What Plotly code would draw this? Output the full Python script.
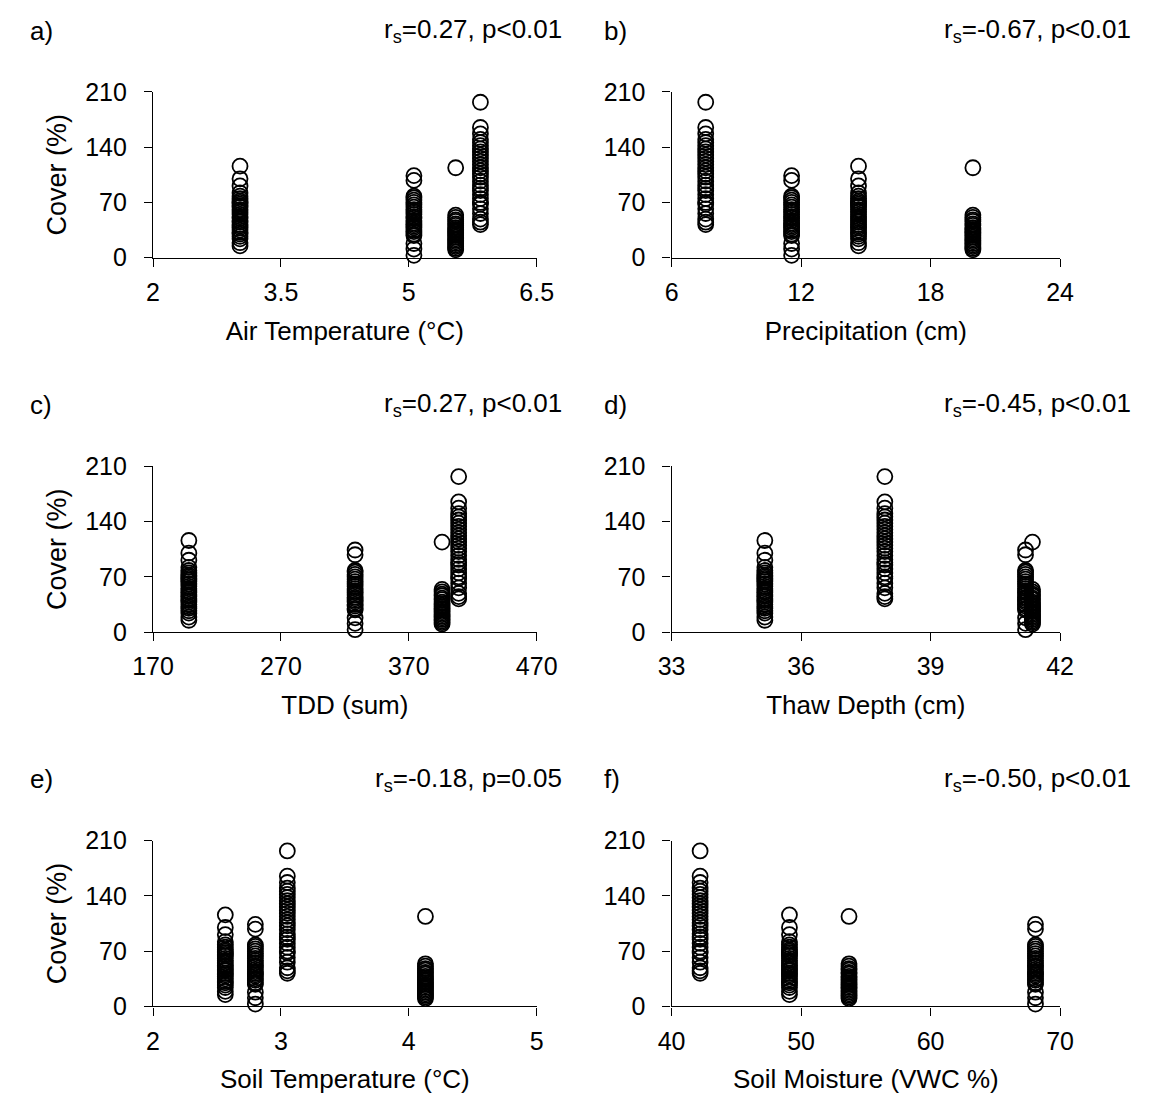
import plotly.graph_objects as go

# ---- data: four sites (A, B, C, D) ----
air_temp = [3.02, 5.06, 5.55, 5.84]
precip = [14.66, 11.56, 19.96, 7.58]
tdd = [198, 328, 396, 409]
thaw_depth = [35.16, 41.20, 41.36, 37.94]
soil_temp = [2.565, 2.80, 4.13, 3.05]
soil_moist = [49.1, 68.1, 53.7, 42.2]

cover_A = [116, 100, 91, 82, 78, 75, 72, 70, 68, 66, 64, 61, 58, 55, 52, 50, 47,
           45, 42, 40, 38, 35, 32, 30, 27, 24, 19, 15]
cover_B = [104, 98, 78, 76, 73, 70, 67, 64, 61, 58, 55, 52, 50, 47, 44, 42, 40,
           38, 35, 33, 30, 28, 18, 11, 3]
cover_C = [114, 54, 51, 48, 46, 43, 41, 38, 36, 34, 32, 30, 28, 26, 24, 22, 20,
           18, 16, 14, 12, 10]
cover_D = [197, 165, 157, 150, 146, 142, 138, 134, 130, 126, 122, 118, 114, 110,
           106, 102, 97, 92, 88, 85, 80, 75, 70, 68, 62, 56, 49, 45, 42]
covers = [cover_A, cover_B, cover_C, cover_D]

panel_letters = ["a)", "b)", "c)", "d)", "e)", "f)"]
stats = ["r<sub>s</sub>=0.27, p&lt;0.01", "r<sub>s</sub>=-0.67, p&lt;0.01",
         "r<sub>s</sub>=0.27, p&lt;0.01", "r<sub>s</sub>=-0.45, p&lt;0.01",
         "r<sub>s</sub>=-0.18, p=0.05", "r<sub>s</sub>=-0.50, p&lt;0.01"]
x_titles = ["Air Temperature (°C)", "Precipitation (cm)", "TDD (sum)",
            "Thaw Depth (cm)", "Soil Temperature (°C)", "Soil Moisture (VWC %)"]
x_vars = [air_temp, precip, tdd, thaw_depth, soil_temp, soil_moist]
x_ranges = [[2, 6.5], [6, 24], [170, 470], [33, 42], [2, 5], [40, 70]]
x_ticks = [[2, 3.5, 5, 6.5], [6, 12, 18, 24], [170, 270, 370, 470],
           [33, 36, 39, 42], [2, 3, 4, 5], [40, 50, 60, 70]]
x_ticktext = [["2", "3.5", "5", "6.5"], ["6", "12", "18", "24"],
              ["170", "270", "370", "470"], ["33", "36", "39", "42"],
              ["2", "3", "4", "5"], ["40", "50", "60", "70"]]
y_ticks = [0, 70, 140, 210]

W, H = 1163, 1114
col_dom = [[137 / W, 535 / W], [675 / W, 1078 / W]]
row_px = [(250, 80), (634, 464), (1018, 848)]  # (y of 0, y of 210) in px
row_dom = [[1 - b / H, 1 - t / H] for b, t in row_px]
label_y = [17, 401, 785]
stat_right = [563, 1154]
letter_left = [7, 603]

FONT = "Liberation Sans, Arial, sans-serif"
TXT = 26

fig = go.Figure()
layout = dict(
    width=W, height=H, margin=dict(l=0, r=0, t=0, b=0),
    paper_bgcolor="white", plot_bgcolor="white", showlegend=False,
    font=dict(family=FONT, size=TXT, color="black"),
)
annotations = []
for i in range(6):
    r, c = divmod(i, 2)
    n = i + 1
    xs, ys = [], []
    for s in range(4):
        xs += [x_vars[i][s]] * len(covers[s])
        ys += covers[s]
    fig.add_trace(go.Scatter(
        x=xs, y=ys, mode="markers", cliponaxis=False,
        marker=dict(symbol="circle-open", size=15, color="black",
                    line=dict(width=1.8, color="black")),
        xaxis=f"x{n}", yaxis=f"y{n}", hoverinfo="skip"))
    axis_common = dict(showline=True, linecolor="black", linewidth=1.4,
                       ticks="outside", ticklen=8, tickwidth=1.4, tickcolor="black",
                       showgrid=False, zeroline=False,
                       tickfont=dict(family=FONT, size=25, color="black"))
    layout[f"xaxis{n}" if n > 1 else "xaxis"] = dict(
        axis_common, domain=col_dom[c], range=x_ranges[i],
        tickvals=x_ticks[i], ticktext=x_ticktext[i], anchor=f"y{n}",
        ticklabelstandoff=4,
        title=dict(text=x_titles[i], font=dict(family=FONT, size=TXT, color="black"),
                   standoff=16))
    ydict = dict(axis_common, domain=row_dom[r], range=[0, 210],
                 tickvals=y_ticks, anchor=f"x{n}", ticklabelstandoff=12)
    if c == 0:
        ydict["title"] = dict(text="Cover (%)",
                              font=dict(family=FONT, size=27, color="black"),
                              standoff=10)
    layout[f"yaxis{n}" if n > 1 else "yaxis"] = ydict
    annotations.append(dict(text=panel_letters[i], xref="paper", yref="paper",
                            x=letter_left[c] / W, y=1 - label_y[r] / H,
                            xanchor="left", yanchor="middle", showarrow=False,
                            font=dict(family=FONT, size=TXT, color="black")))
    annotations.append(dict(text=stats[i], xref="paper", yref="paper",
                            x=stat_right[c] / W, y=1 - label_y[r] / H,
                            xanchor="right", yanchor="middle", showarrow=False,
                            font=dict(family=FONT, size=TXT, color="black")))

layout["annotations"] = annotations
fig.update_layout(**layout)
fig.write_html("out.html", config={"displayModeBar": False},
               post_script="document.body.style.margin='0px';")
